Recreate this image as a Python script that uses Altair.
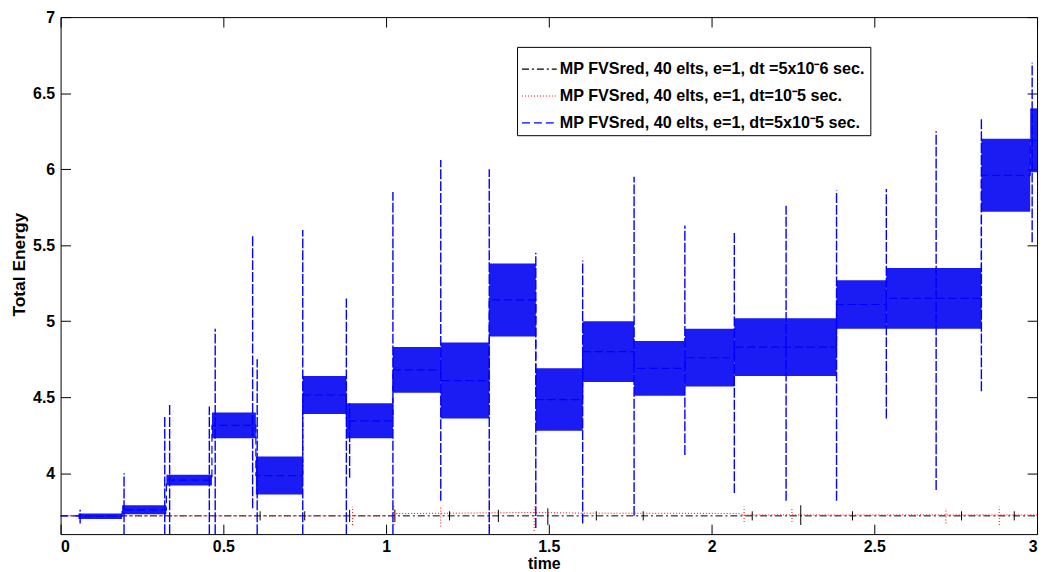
import altair as alt
import pandas as pd

# ---------------- data ----------------
SERIES = [
    "MP FVSred, 40 elts, e=1, dt =5x10\u207b6 sec.",
    "MP FVSred, 40 elts, e=1, dt=10\u207b5 sec.",
    "MP FVSred, 40 elts, e=1, dt=5x10\u207b5 sec.",
]

# blue (dt=5e-5) noisy plateaus: start time, end time, band low, band high
plat_start = [0.055, 0.189, 0.325, 0.465, 0.600, 0.744, 0.878, 1.021, 1.168, 1.317,
              1.460, 1.604, 1.762, 1.918, 2.070, 2.384, 2.537, 2.829, 2.979]
plat_end = [0.189, 0.325, 0.465, 0.600, 0.744, 0.878, 1.021, 1.168, 1.317, 1.460,
            1.604, 1.762, 1.918, 2.070, 2.384, 2.537, 2.829, 2.979, 3.000]
plat_lo = [3.700, 3.730, 3.920, 4.230, 3.860, 4.390, 4.230, 4.530, 4.360, 4.900,
           4.280, 4.600, 4.510, 4.570, 4.640, 4.950, 4.950, 5.720, 5.980]
plat_hi = [3.735, 3.790, 3.990, 4.400, 4.110, 4.640, 4.460, 4.830, 4.860, 5.380,
           4.690, 5.000, 4.870, 4.950, 5.020, 5.270, 5.350, 6.200, 6.400]

# blue spikes at the jumps: time, low, high
spike_t = [0.060, 0.195, 0.320, 0.335, 0.457, 0.475, 0.590, 0.604, 0.744, 0.878,
           0.888, 1.021, 1.168, 1.317, 1.460, 1.604, 1.762, 1.918, 2.070, 2.229,
           2.384, 2.537, 2.690, 2.829, 2.985]
spike_lo = [3.67, 3.60, 3.60, 3.60, 3.60, 3.60, 3.77, 3.60, 3.60, 3.60,
            3.97, 3.60, 3.82, 3.60, 3.64, 3.67, 3.72, 4.12, 3.87, 3.82,
            3.82, 4.36, 3.89, 4.54, 5.52]
spike_hi = [3.76, 4.00, 4.38, 4.46, 4.44, 4.95, 5.56, 4.75, 5.60, 5.15,
            4.46, 5.85, 6.06, 6.00, 5.45, 5.40, 5.95, 5.63, 5.58, 5.76,
            5.86, 5.87, 6.25, 6.33, 6.70]

# black (dt=5e-6) baseline and small glitches
black_t = [0.0, 3.0]
black_e = [3.72, 3.72]
bglitch_t = [0.613, 0.750, 0.888, 1.027, 1.195, 1.345, 1.497, 1.646, 1.790,
             2.125, 2.274, 2.433, 2.768, 2.930]
bglitch_lo = [3.69, 3.69, 3.68, 3.68, 3.69, 3.68, 3.66, 3.69, 3.69,
              3.69, 3.66, 3.69, 3.69, 3.69]
bglitch_hi = [3.75, 3.75, 3.76, 3.76, 3.75, 3.76, 3.77, 3.75, 3.75,
              3.75, 3.79, 3.75, 3.75, 3.75]

# red (dt=1e-5) baseline and glitches
red_t = [0.0, 1.02, 1.03, 1.46, 1.60, 2.08, 2.10, 3.0]
red_e = [3.720, 3.720, 3.735, 3.742, 3.738, 3.736, 3.726, 3.726]
rglitch_t = [0.897, 1.024, 1.168, 1.317, 1.455, 2.100, 2.247, 2.720, 2.884]
rglitch_lo = [3.66, 3.66, 3.65, 3.62, 3.62, 3.68, 3.68, 3.67, 3.66]
rglitch_hi = [3.78, 3.79, 3.78, 3.80, 3.78, 3.78, 3.77, 3.77, 3.78]

x_ticks = [0, 0.5, 1, 1.5, 2, 2.5, 3]
y_ticks = [4, 4.5, 5, 5.5, 6, 6.5, 7]

# ---------------- tables ----------------
bands = pd.DataFrame({"t": plat_start, "t2": plat_end, "lo": plat_lo, "hi": plat_hi})
spikes = pd.DataFrame({"t": spike_t, "lo": spike_lo, "hi": spike_hi})

bl_t, bl_e = [0.0, 0.055], [3.72, 3.72]
for s, e, lo, hi in zip(plat_start, plat_end, plat_lo, plat_hi):
    m = (lo + hi) / 2
    bl_t += [s, e]
    bl_e += [m, m]
blue_line = pd.DataFrame({"t": bl_t, "E": bl_e, "i": range(len(bl_t)), "series": SERIES[2]})
black_line = pd.DataFrame({"t": black_t, "E": black_e, "i": range(len(black_t)), "series": SERIES[0]})
red_line = pd.DataFrame({"t": red_t, "E": red_e, "i": range(len(red_t)), "series": SERIES[1]})
bgl = pd.DataFrame({"t": bglitch_t, "lo": bglitch_lo, "hi": bglitch_hi})
rgl = pd.DataFrame({"t": rglitch_t, "lo": rglitch_lo, "hi": rglitch_hi})

FONT = "Liberation Sans"
xscale = alt.Scale(domain=[0, 3], nice=False, zero=False)
yscale = alt.Scale(domain=[3.6, 7], nice=False, zero=False)

main_x = alt.Axis(values=x_ticks, format="~g", ticks=False, domain=False, grid=False,
                  labelPadding=5, titlePadding=1, title="time", titleX=487,
                  titleFontSize=16)
main_y = alt.Axis(values=y_ticks, format="~g", ticks=False, domain=False, grid=False,
                  labelPadding=6, titlePadding=4, title="Total Energy", titleY=249,
                  titleFontSize=17.5)


def tick_axis(orient, vals):
    return alt.Axis(orient=orient, values=vals, offset=-10, tickSize=10, ticks=True,
                    labels=False, domain=False, grid=False, title=None,
                    tickColor="black", tickWidth=1)


color_scale = alt.Scale(domain=SERIES, range=["#000000", "#ff0000", "#0000ff"])
dash_scale = alt.Scale(domain=SERIES, range=[[7, 3, 2, 3], [1, 2], [8, 4]])
legend = alt.Legend(orient="none", legendX=460, legendY=30, title=None,
                    fillColor="white", strokeColor="black", padding=4,
                    labelFont=FONT, labelFontSize=16.3, labelFontWeight="bold",
                    labelColor="black", labelLimit=0, labelOffset=2,
                    symbolType="stroke", symbolSize=1225, symbolStrokeWidth=1.2,
                    rowPadding=-2)

band_layer = alt.Chart(bands).mark_rect(color="#0a0af2", opacity=0.93, strokeWidth=0).encode(
    x=alt.X("t:Q", scale=xscale, axis=main_x),
    x2="t2:Q",
    y=alt.Y("lo:Q", scale=yscale, axis=main_y),
    y2="hi:Q",
)

spike_layer = alt.Chart(spikes).mark_rule(color="#0000ff", strokeWidth=1.4, strokeDash=[10, 2]).encode(
    x=alt.X("t:Q", scale=xscale, axis=None),
    y=alt.Y("lo:Q", scale=yscale, axis=None),
    y2="hi:Q",
)

blue_layer = alt.Chart(blue_line).mark_line(strokeWidth=1.2).encode(
    x=alt.X("t:Q", scale=xscale, axis=tick_axis("bottom", x_ticks)),
    y=alt.Y("E:Q", scale=yscale, axis=tick_axis("left", y_ticks)),
    order="i:Q",
    color=alt.Color("series:N", scale=color_scale, legend=legend),
    strokeDash=alt.StrokeDash("series:N", scale=dash_scale, legend=legend),
)

black_layer = alt.Chart(black_line).mark_line(strokeWidth=1).encode(
    x=alt.X("t:Q", scale=xscale, axis=tick_axis("top", x_ticks)),
    y=alt.Y("E:Q", scale=yscale, axis=tick_axis("right", y_ticks)),
    order="i:Q",
    color=alt.Color("series:N", scale=color_scale, legend=legend),
    strokeDash=alt.StrokeDash("series:N", scale=dash_scale, legend=legend),
)

red_layer = alt.Chart(red_line).mark_line(strokeWidth=1).encode(
    x=alt.X("t:Q", scale=xscale, axis=None),
    y=alt.Y("E:Q", scale=yscale, axis=None),
    order="i:Q",
    color=alt.Color("series:N", scale=color_scale, legend=legend),
    strokeDash=alt.StrokeDash("series:N", scale=dash_scale, legend=legend),
)

bgl_layer = alt.Chart(bgl).mark_rule(color="#000000", strokeWidth=1).encode(
    x=alt.X("t:Q", scale=xscale, axis=None),
    y=alt.Y("lo:Q", scale=yscale, axis=None),
    y2="hi:Q",
)

rgl_layer = alt.Chart(rgl).mark_rule(color="#ff0000", strokeWidth=1, strokeDash=[1, 2]).encode(
    x=alt.X("t:Q", scale=xscale, axis=None),
    y=alt.Y("lo:Q", scale=yscale, axis=None),
    y2="hi:Q",
)

chart = alt.layer(
    black_layer, bgl_layer, red_layer, rgl_layer, band_layer, spike_layer, blue_layer
).resolve_axis(
    x="independent", y="independent"
).properties(
    width=984, height=521,
    autosize=alt.AutoSizeParams(type="none"),
    padding={"left": 53, "top": 7, "right": 5, "bottom": 36},
    background="white",
).configure_view(
    stroke="black", strokeWidth=1
).configure_axis(
    labelFont=FONT, labelFontSize=16, labelFontWeight="bold", labelColor="black",
    titleFont=FONT, titleFontWeight="bold", titleColor="black",
)

chart.save("out.html", embed_options={"renderer": "svg", "actions": False})
